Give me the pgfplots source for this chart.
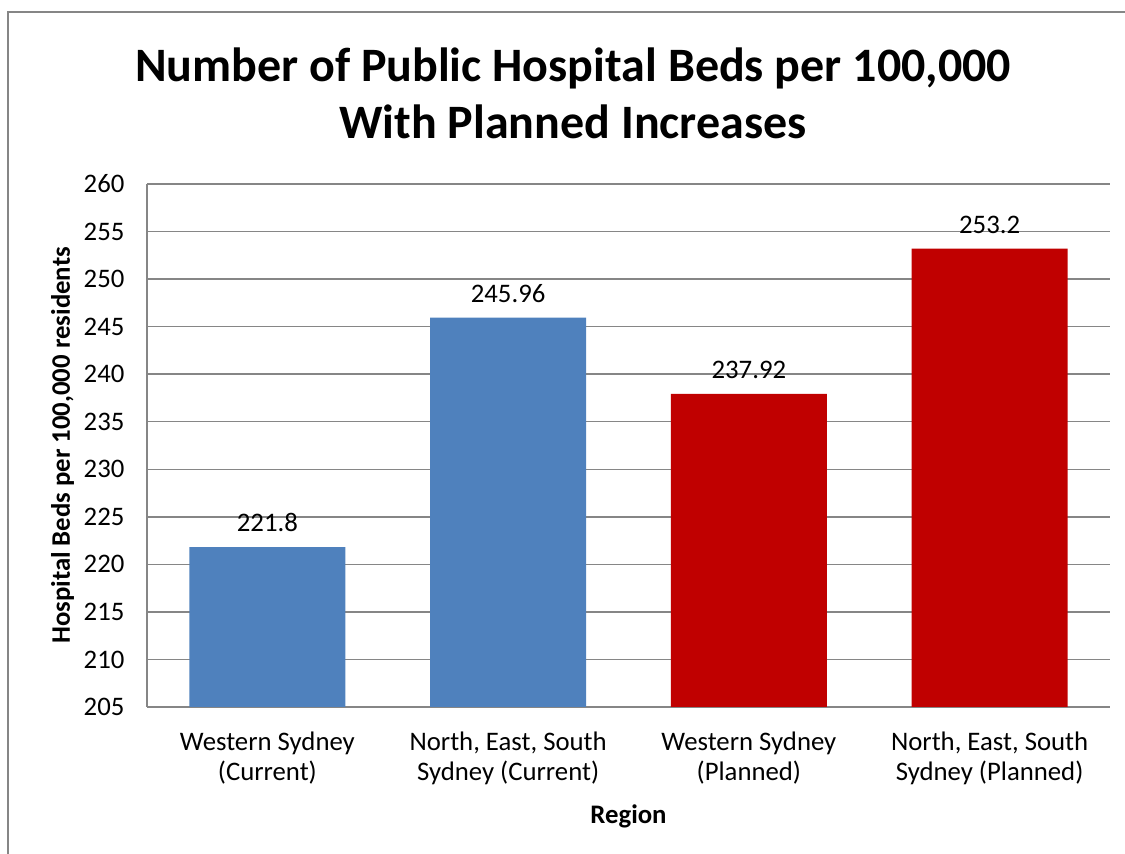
\documentclass[border=0pt]{standalone}
\usepackage{pgfplots}
\pgfplotsset{compat=1.18}
\usepackage{fontspec}
\setmainfont{Carlito}
\definecolor{barblue}{HTML}{4F81BD}
\definecolor{barred}{HTML}{C00000}
\definecolor{gridgray}{HTML}{868686}
\begin{document}
\begin{tikzpicture}
\useasboundingbox (0,0) rectangle (450pt,341.6pt);
\draw[gridgray, line width=0.8pt] (3.2pt,0) -- (3.2pt,336.8pt) -- (450pt,336.8pt);
\node[align=center, font=\fontsize{19.2}{22.8}\selectfont\bfseries] at (229.2pt,304.2pt) {Number of Public Hospital Beds per 100,000\\With Planned Increases};
\begin{axis}[
  at={(58.8pt,58.8pt)}, anchor=south west,
  scale only axis,
  width=385.2pt, height=209.2pt,
  xmin=-0.5, xmax=3.5,
  ymin=205, ymax=260,
  ytick={205,210,...,260},
  xtick={0,1,2,3},
  xticklabels={{Western Sydney\\(Current)},{North, East, South\\Sydney (Current)},{Western Sydney\\(Planned)},{North, East, South\\Sydney (Planned)}},
  xticklabel style={align=center, font=\fontsize{10.7}{12}\selectfont, yshift=-6.5pt},
  yticklabel style={font=\fontsize{10.7}{12}\selectfont, xshift=-5.5pt},
  /pgf/number format/assume math mode=true,
  major tick length=0pt,
  ymajorgrids, grid style={gridgray, line width=0.6pt},
  axis x line*=bottom, axis y line*=left,
  axis line style={gridgray, line width=0.8pt},
  x axis line style={-}, y axis line style={-},
  xlabel={\bfseries Region},
  xlabel style={font=\fontsize{10.7}{12}\selectfont, yshift=-0.9pt},
  ylabel={\bfseries Hospital Beds per 100,000 residents},
  ylabel style={font=\fontsize{10.7}{12}\selectfont, yshift=-3pt},
  ybar, bar width=0.648, bar shift=0pt,
  nodes near coords,
  nodes near coords style={font=\fontsize{10.7}{12}\selectfont, color=black, yshift=2.5pt},
  point meta=explicit symbolic,
]
\addplot[fill=barblue, draw=none] coordinates {(0,221.8)[221.8] (1,245.96)[245.96]};
\addplot[fill=barred, draw=none] coordinates {(2,237.92)[237.92] (3,253.2)[253.2]};
\end{axis}
\end{tikzpicture}
\end{document}
